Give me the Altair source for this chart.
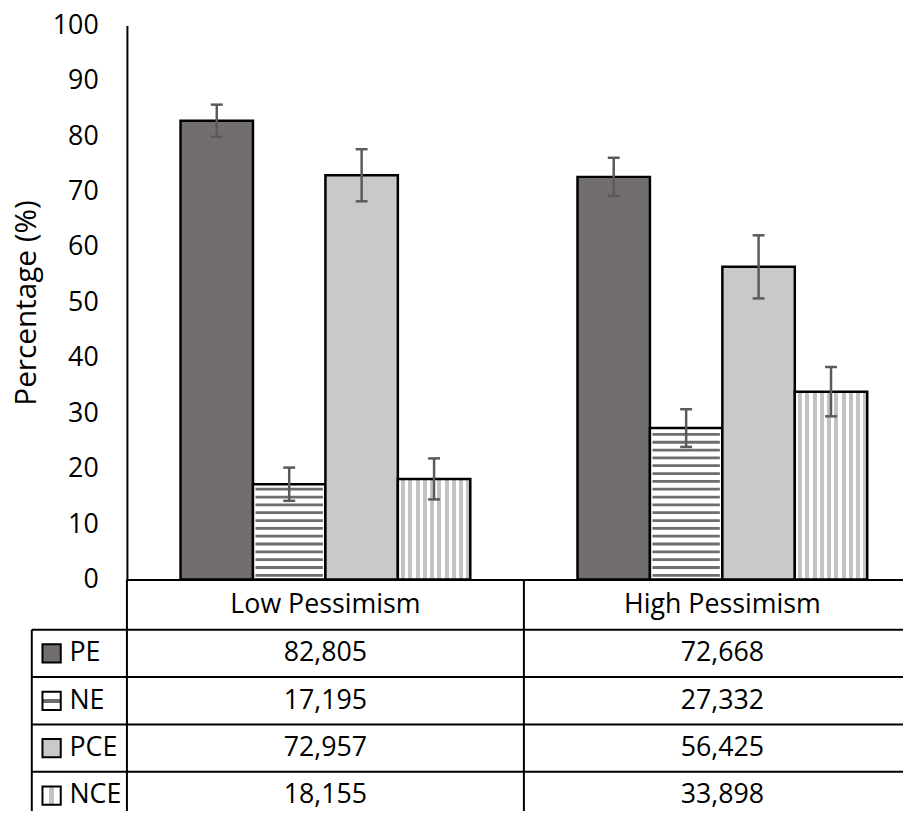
import altair as alt
import pandas as pd

categories = ["Low Pessimism", "High Pessimism"]
series = ["PE", "NE", "PCE", "NCE"]
values_low = [82.805, 17.195, 72.957, 18.155]
values_high = [72.668, 27.332, 56.425, 33.898]
err_low = [2.9, 3.0, 4.7, 3.7]
err_high = [3.45, 3.4, 5.7, 4.45]

rows = []
for cat, vals, errs in [(categories[0], values_low, err_low), (categories[1], values_high, err_high)]:
    for s, v, e in zip(series, vals, errs):
        rows.append({"category": cat, "series": s, "value": v, "lo": v - e, "hi": v + e})
df = pd.DataFrame(rows)
legend_df = pd.DataFrame({"series": series})
cat_df = pd.DataFrame({"category": categories})
one_df = pd.DataFrame({"k": [0]})

FONT = "Open Sans"
W, H = 801, 559
ROW_TOP, ROW_H = 609.7, 47.8

DARK = "#726e6e"
LIGHT = "#c9c9c9"
STRIPE_DARK = "#6e6e6e"
STRIPE_LIGHT = "#c2c2c2"


def v_stripes(n, gray_frac):
    stops = []
    for i in range(n):
        a = i / n
        b = (i + 1 - gray_frac) / n
        c = (i + 1) / n
        stops += [alt.GradientStop(offset=a, color="white"),
                  alt.GradientStop(offset=b, color="white"),
                  alt.GradientStop(offset=b, color=STRIPE_LIGHT),
                  alt.GradientStop(offset=c, color=STRIPE_LIGHT)]
    return alt.LinearGradient(gradient="linear", stops=stops, x1=0, x2=1, y1=0, y2=0)


def band_grad(color, a, b, horizontal):
    stops = [alt.GradientStop(offset=0, color="white"),
             alt.GradientStop(offset=a, color="white"),
             alt.GradientStop(offset=a, color=color),
             alt.GradientStop(offset=b, color=color),
             alt.GradientStop(offset=b, color="white"),
             alt.GradientStop(offset=1, color="white")]
    if horizontal:
        return alt.LinearGradient(gradient="linear", stops=stops, x1=0, x2=0, y1=0, y2=1)
    return alt.LinearGradient(gradient="linear", stops=stops, x1=0, x2=1, y1=0, y2=0)


bar_fills = {"PE": DARK, "NE": "white", "PCE": LIGHT, "NCE": v_stripes(10, 0.55)}
swatch_fills = {"PE": DARK, "NE": band_grad(STRIPE_DARK, 0.4, 0.62, True),
                "PCE": LIGHT, "NCE": band_grad(STRIPE_LIGHT, 0.38, 0.62, False)}

x_scale = alt.Scale(domain=categories, paddingInner=0, paddingOuter=0)
x_axis = alt.Axis(title=None, orient="bottom", labelAngle=0, ticks=False, tickSize=0, labelPadding=25,
                  labelBaseline="middle", labelFontSize=27, labelFont=FONT, labelColor="black",
                  labelLimit=500, domainColor="black", domainWidth=2, grid=False)
x_enc = alt.X("category:N", sort=categories, scale=x_scale, axis=x_axis)
xo_enc = alt.XOffset("series:N", sort=series,
                     scale=alt.Scale(domain=series, paddingInner=0, paddingOuter=0.74))
y_scale = alt.Scale(domain=[0, 100], nice=False, zero=True)
y_axis = alt.Axis(values=list(range(0, 101, 10)), title="Percentage (%)", ticks=False, tickSize=0,
                  grid=False, labelPadding=29, labelFontSize=27, labelFont=FONT, labelColor="black",
                  domainColor="black", domainWidth=2, titleFont=FONT, titleFontSize=30,
                  titleFontWeight="normal", titleColor="black", titleX=-101, titleY=279.5,
                  titleBaseline="middle", titleAlign="center")

base = alt.Chart(df)

bar_layers = []
for s in series:
    bar_layers.append(
        base.transform_filter(alt.datum.series == s)
        .mark_bar(fill=bar_fills[s], stroke="black", strokeWidth=2.5)
        .encode(x=x_enc, xOffset=xo_enc, y=alt.Y("value:Q", scale=y_scale, axis=y_axis))
    )

ne_stripes = (
    base.transform_filter(alt.datum.series == "NE")
    .transform_calculate(stripe="sequence(0.75, datum.value - 0.55, 1.413)")
    .transform_flatten(["stripe"])
    .mark_tick(orient="horizontal", color=STRIPE_DARK, thickness=2.8, size=68, opacity=1)
    .encode(x=x_enc, xOffset=xo_enc, y=alt.Y("stripe:Q", scale=y_scale, axis=y_axis))
)

err_color = "#5a5a5a"
err_rule = base.mark_rule(color=err_color, strokeWidth=2.5, opacity=1).encode(
    x=x_enc, xOffset=xo_enc, y=alt.Y("lo:Q", scale=y_scale, axis=y_axis), y2="hi:Q")
err_lo = base.mark_tick(orient="horizontal", color=err_color, thickness=2.5, size=12, opacity=1).encode(
    x=x_enc, xOffset=xo_enc, y=alt.Y("lo:Q", scale=y_scale, axis=y_axis))
err_hi = base.mark_tick(orient="horizontal", color=err_color, thickness=2.5, size=12, opacity=1).encode(
    x=x_enc, xOffset=xo_enc, y=alt.Y("hi:Q", scale=y_scale, axis=y_axis))

# vertical table lines at the start of each category band
v_lines = alt.Chart(cat_df).mark_rule(color="black", strokeWidth=2).encode(
    x=alt.X("category:N", sort=categories, scale=x_scale, axis=x_axis, bandPosition=0),
    y=alt.value(H), y2=alt.value(H + 300))

chart_part = alt.layer(*bar_layers, ne_stripes, err_rule, err_lo, err_hi, v_lines)

# ---- data table under the chart ----
row_scale = alt.Scale(domain=series, range=[ROW_TOP, ROW_TOP + 4 * ROW_H], paddingInner=0, paddingOuter=0)

h_lines = alt.Chart(legend_df).mark_rule(color="black", strokeWidth=2).encode(
    y=alt.Y("series:N", sort=series, scale=row_scale, bandPosition=0, axis=None),
    x=alt.value(-96), x2=alt.value(830))
left_line = alt.Chart(one_df).mark_rule(color="black", strokeWidth=2).encode(
    x=alt.value(-96), y=alt.value(ROW_TOP), y2=alt.value(H + 300))

swatches = []
for s in series:
    swatches.append(
        alt.Chart(legend_df).transform_filter(alt.datum.series == s)
        .mark_square(size=340, fill=swatch_fills[s], stroke="black", strokeWidth=2, opacity=1, fillOpacity=1)
        .encode(x=alt.value(-76), y=alt.Y("series:N", sort=series, scale=row_scale, axis=None))
    )
row_labels = alt.Chart(legend_df).mark_text(align="left", baseline="middle", font=FONT, fontSize=27, color="black").encode(
    x=alt.value(-58), y=alt.Y("series:N", sort=series, scale=row_scale, axis=None), text="series:N")
cell_text = (
    base.transform_calculate(label="replace(format(datum.value, '.3f'), '.', ',')")
    .mark_text(align="center", baseline="middle", font=FONT, fontSize=27, color="black")
    .encode(x=x_enc, y=alt.Y("series:N", sort=series, scale=row_scale, axis=None), text="label:N")
)

table_part = alt.layer(h_lines, left_line, *swatches, row_labels, cell_text)

chart = (
    alt.layer(chart_part, table_part)
    .resolve_scale(y="independent")
    .resolve_axis(x="shared")
    .properties(width=W, height=H,
                view=alt.ViewBackground(stroke="transparent", strokeWidth=0),
                autosize=alt.AutoSizeParams(type="none"),
                padding={"left": 120, "top": 14, "right": -18, "bottom": 230})
    .configure_view(stroke="transparent", strokeWidth=0, strokeOpacity=0)
    .configure_axis(grid=False)
    .configure(font=FONT)
)

chart.save("out.html", embed_options={"renderer": "svg", "actions": False})
